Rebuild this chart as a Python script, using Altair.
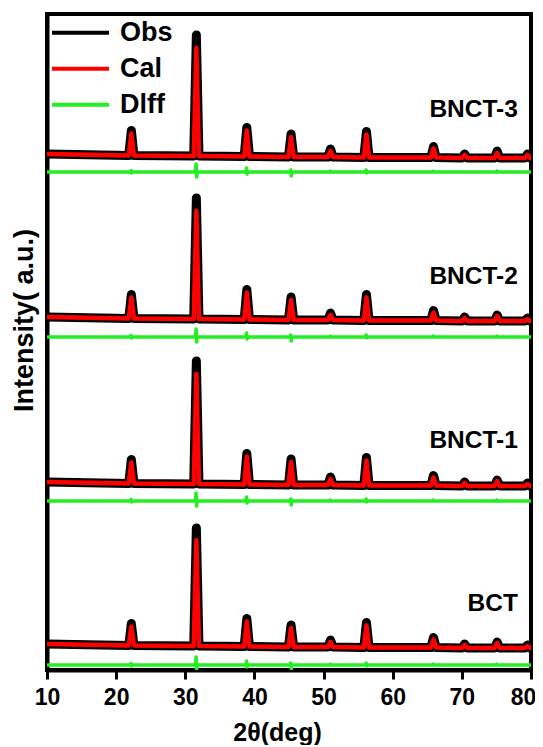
import altair as alt
import pandas as pd

# ---- data ----
PEAKS = [22.2, 31.6, 38.9, 45.3, 51.0, 56.2, 65.9, 70.4, 75.1, 79.5]
SAMPLES = ["BNCT-3", "BNCT-2", "BNCT-1", "BCT"]
BASELINE = [513, 350, 185, 23]      # vertical offset of each pattern (a.u.)
DIFF_LEVEL = [498, 333, 169, 5]     # offset of each difference curve (a.u.)
LABEL_Y = [560, 393, 229, 66]
LABEL_X = [78.1, 78.1, 78.1, 78.1]

OBS_BNCT3 = [25, 121, 29, 23, 8, 26, 11, 4, 7, 4]
OBS_BNCT2 = [24, 121, 30, 23, 7, 26, 10, 4, 6, 3]
OBS_BNCT1 = [24, 123, 31, 26, 8, 28, 10, 4, 6, 3]
OBS_BCT = [22, 118, 28, 22, 7, 25, 10, 4, 6, 3]

CAL_BNCT3 = [22, 108, 26, 20, 6, 23, 9, 3, 5, 3]
CAL_BNCT2 = [21, 108, 27, 20, 5, 23, 8, 3, 5, 2]
CAL_BNCT1 = [21, 110, 28, 23, 6, 25, 8, 3, 5, 2]
CAL_BCT = [19, 106, 25, 19, 5, 22, 8, 3, 5, 2]

# background level under each point: start (10), each peak, end (80)
BG_SHIFT = [3, 1.5, 1, 0.5, 0, 0, -0.5, -0.5, -1, -1, -1, -1]

DIFF_UP = [1.5, 8, 4, 2, 1, 2, 1, 0, 1, 0]
DIFF_DOWN = [1, 5, 2, 4, 0, 1, 0, 0, 0, 0]

SERIES = ["Obs", "Cal", "Dlff"]
COLORS = ["#000000", "#ff0000", "#22ee22"]
X_TICKS = [10, 20, 30, 40, 50, 60, 70, 80]

OBS = [OBS_BNCT3, OBS_BNCT2, OBS_BNCT1, OBS_BCT]
CAL = [CAL_BNCT3, CAL_BNCT2, CAL_BNCT1, CAL_BCT]

HW = 0.38  # half width of a peak at its base (deg)
FONT = "Liberation Sans"

def profile(sample, series, base, heights):
    rows = [(10.0, base + BG_SHIFT[0])]
    for i, p in enumerate(PEAKS):
        b = base + BG_SHIFT[i + 1]
        rows += [(p - HW, b), (p, b + heights[i]), (min(p + HW, 80.0), b)]
    rows.append((80.0, base + BG_SHIFT[-1]))
    return [dict(sample=sample, series=series, two_theta=x, intensity=y, idx=k)
            for k, (x, y) in enumerate(rows)]

def diff_curve(sample, level):
    rows = [(10.0, level)]
    for i, p in enumerate(PEAKS):
        rows += [(p - 0.12, level), (p - 0.04, level + DIFF_UP[i]),
                 (p + 0.04, level - DIFF_DOWN[i]), (p + 0.12, level)]
    rows.append((80.0, level))
    return [dict(sample=sample, series="Dlff", two_theta=x, intensity=y, idx=k)
            for k, (x, y) in enumerate(rows)]

obs_rows, cal_rows, diff_rows = [], [], []
for s, b, d, o, c in zip(SAMPLES, BASELINE, DIFF_LEVEL, OBS, CAL):
    obs_rows += profile(s, "Obs", b, o)
    cal_rows += profile(s, "Cal", b, c)
    diff_rows += diff_curve(s, d)

obs_df = pd.DataFrame(obs_rows)
cal_df = pd.DataFrame(cal_rows)
diff_df = pd.DataFrame(diff_rows)
label_df = pd.DataFrame({"sample": SAMPLES, "two_theta": LABEL_X, "intensity": LABEL_Y})

x_enc = alt.X("two_theta:Q",
              scale=alt.Scale(domain=[10, 80], nice=False, zero=False),
              axis=alt.Axis(values=X_TICKS, title="2θ(deg)",
                            labelFontSize=23, labelFontWeight="bold", labelFont=FONT,
                            labelColor="black", tickSize=9, tickWidth=3, tickColor="black",
                            domainWidth=4, domainColor="black", labelPadding=7,
                            labelOffset={"condition": {"test": "datum.value == 80", "value": -8},
                                         "value": 0},
                            titleFontSize=25, titleFontWeight="bold", titleFont=FONT,
                            titleColor="black", titlePadding=11, titleX=230, grid=False,
                            labelFlush=False))
y_enc = alt.Y("intensity:Q",
              scale=alt.Scale(domain=[0, 656], nice=False, zero=False),
              axis=alt.Axis(title="Intensity( a.u.)", labels=False, ticks=False,
                            domainWidth=4, domainColor="black", grid=False,
                            titleFontSize=27, titleFontWeight="bold", titleFont=FONT,
                            titleColor="black", titlePadding=9, titleY=306))
color_enc = alt.Color("series:N",
                      scale=alt.Scale(domain=SERIES, range=COLORS),
                      sort=SERIES,
                      legend=alt.Legend(orient="none", legendX=3, legendY=1, title=None,
                                        symbolType="stroke", symbolSize=3249,
                                        symbolStrokeWidth=4, labelFontSize=27,
                                        labelFontWeight="bold", labelFont=FONT,
                                        labelColor="black", clipHeight=35.5, rowPadding=0,
                                        labelOffset=9, padding=0))

def line_layer(df, width):
    return alt.Chart(df).mark_line(strokeWidth=width, strokeCap="round",
                                   strokeJoin="round", clip=True).encode(
        x=x_enc, y=y_enc, color=color_enc, detail="sample:N", order="idx:Q")

labels = alt.Chart(label_df).mark_text(align="right", baseline="middle", fontSize=24.5,
                                       fontWeight="bold", font=FONT, color="black").encode(
    x=x_enc, y=y_enc, text="sample:N")

chart = alt.layer(
    line_layer(obs_df, 9),
    line_layer(cal_df, 4.5),
    line_layer(diff_df, 3.5),
    labels,
).properties(
    width=484, height=656,
    autosize=alt.AutoSizeParams(type="none"),
    padding={"left": 39, "top": 6, "right": 4, "bottom": 75},
).configure_view(stroke="black", strokeWidth=4)

chart.save("out.html", embed_options={"renderer": "svg", "actions": False})
